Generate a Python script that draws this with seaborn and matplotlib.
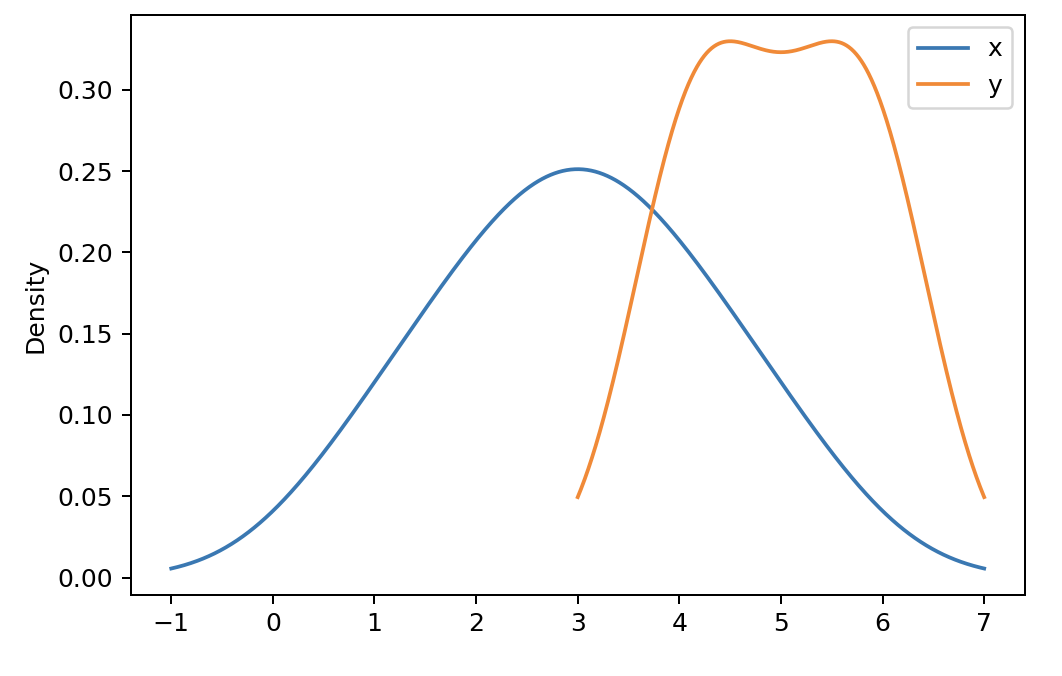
import matplotlib
matplotlib.use("Agg")
import matplotlib.pyplot as plt
import seaborn as sns
import pandas as pd

# raw samples behind the two density curves
x_values = [1, 2, 2.5, 3, 3.5, 4, 5]
y_values = [4, 4, 4.5, 5, 5.5, 6, 6]
series_names = ["x", "y"]

df = pd.DataFrame({series_names[0]: x_values, series_names[1]: y_values})

fig, ax = plt.subplots(figsize=(1062 / 180, 676 / 180), dpi=180)
fig.subplots_adjust(left=0.123, right=0.965, top=0.978, bottom=0.12)

colors = ["#3a78b2", "#f08a38"]
for name, color in zip(series_names, colors):
    vals = df[name]
    rng = vals.max() - vals.min()
    # evaluate over min - range/2 .. max + range/2
    sns.kdeplot(vals, ax=ax, color=color, label=name, linewidth=1.5,
                cut=10, clip=(vals.min() - 0.5 * rng, vals.max() + 0.5 * rng),
                gridsize=1000)

# let the y axis get the normal margin below zero
for line in ax.lines:
    line.sticky_edges.y.clear()
ax.relim()
ax.autoscale_view()

ax.set_xlabel("")
ax.set_ylabel("Density")
ax.legend(loc="upper right")

fig.savefig("out.png", dpi=180)
